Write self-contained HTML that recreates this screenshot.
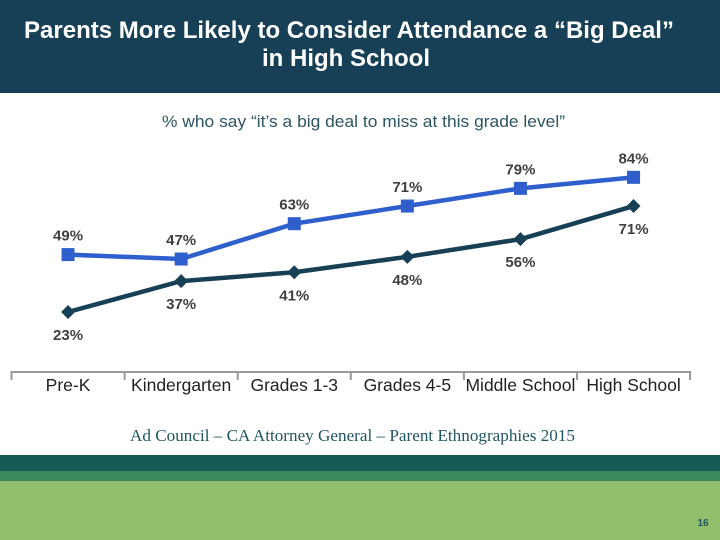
<!DOCTYPE html>
<html><head><meta charset="utf-8"><style>
body{margin:0;width:720px;height:540px;overflow:hidden;background:#fff;font-family:"Liberation Sans",sans-serif;position:relative}
.t{position:absolute;left:0;top:0;width:720px;height:93px;background:#173f55;color:#fff;text-align:center;font-size:24px;font-weight:bold;line-height:28px;padding-top:17px;box-sizing:border-box;white-space:nowrap}
</style></head><body>
<div class="t"><span style="position:relative;left:-11px">Parents More Likely to Consider Attendance a “Big Deal”</span><br><span style="position:relative;left:-14px">in High School</span></div>
<svg width="720" height="540" style="position:absolute;left:0;top:0" id="c">
<text x="162" y="127" textLength="403" lengthAdjust="spacingAndGlyphs" font-size="17" fill="#2d5560">% who say “it’s a big deal to miss at this grade level”</text>
<text x="130" y="441" textLength="445" lengthAdjust="spacingAndGlyphs" font-size="17" font-family="Liberation Serif" fill="#1f5560">Ad Council – CA Attorney General – Parent Ethnographies 2015</text>
<rect x="0" y="455" width="720" height="16" fill="#175a54"/>
<rect x="0" y="471" width="720" height="10" fill="#3a8a5e"/>
<rect x="0" y="481" width="720" height="59" fill="#93be6e"/>
<text x="703" y="526" text-anchor="middle" font-size="10" font-weight="bold" fill="#1f5560">16</text>
</svg>
<script>
const categories=["Pre-K","Kindergarten","Grades 1-3","Grades 4-5","Middle School","High School"];
const highSeries=[49,47,63,71,79,84];
const lowSeries=[23,37,41,48,56,71];
const svg=document.getElementById('c');
const NS='http://www.w3.org/2000/svg';
const x0=11.5,bw=113.1;
const xs=i=>x0+bw*(i+0.5);
const ys=v=>362.8-2.208*v;
function mk(t,a){const e=document.createElementNS(NS,t);for(const k in a)e.setAttribute(k,a[k]);svg.appendChild(e);return e;}
const ax=mk('path',{d:'M'+x0+' 380V372H'+(x0+bw*6)+'V380',fill:'none',stroke:'#999',"stroke-width":2});


categories.forEach((c,i)=>{
  if(i>0){const tk=mk('line',{x1:x0+bw*i,x2:x0+bw*i,y1:372,y2:380,stroke:'#999','stroke-width':2});
  
  }
  const t=mk('text',{x:xs(i),y:391,'text-anchor':'middle','font-size':17.5,fill:'#222'});
  t.textContent=c;
  
  
});
function series(vals,color,shape,dy,name){
  const pl=mk('polyline',{points:vals.map((v,i)=>xs(i)+','+ys(v)).join(' '),fill:'none',stroke:color,'stroke-width':4.5});
  
  
  vals.forEach((v,i)=>{
    const X=xs(i),Y=ys(v);let m;
    if(shape==='sq')m=mk('rect',{x:X-6.5,y:Y-6.5,width:13,height:13,fill:color});
    else m=mk('path',{d:`M${X} ${Y-7}L${X+7} ${Y}L${X} ${Y+7}L${X-7} ${Y}Z`,fill:color});
    
    
    const t=mk('text',{x:X,y:Y+dy,'text-anchor':'middle','font-size':15,'font-weight':'bold',fill:'#404040'});
    t.textContent=v+'%';
    
    
  });
}
series(highSeries,'#2e5fcc','sq',-14,'high-series');
series(lowSeries,'#173f55','dia',28,'low-series');
</script>
</body></html>
